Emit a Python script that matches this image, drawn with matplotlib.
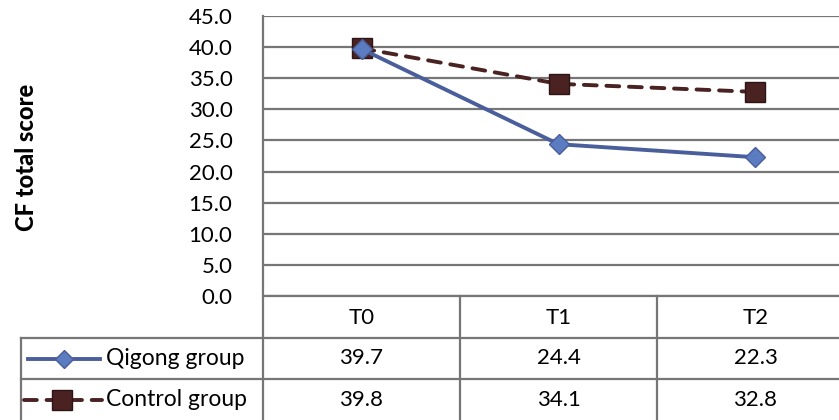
"""
CF total score over time for the Qigong and control groups,
drawn as a line chart with a data table underneath.
"""
import matplotlib
matplotlib.use('Agg')
import matplotlib.pyplot as plt
from matplotlib.lines import Line2D

# Data
timepoints = ['T0', 'T1', 'T2']
qigong_scores = [39.7, 24.4, 22.3]
control_scores = [39.8, 34.1, 32.8]
series_names = ['Qigong group', 'Control group']
y_ticks = [0, 5, 10, 15, 20, 25, 30, 35, 40, 45]

W, H = 839, 420
plt.rcParams['font.family'] = ['Lato', 'DejaVu Sans']

fig = plt.figure(figsize=(W / 100, H / 100), dpi=100)
fig.patch.set_facecolor('white')


def fx(x):
    return x / W


def fy(y):
    return 1 - y / H


# Plot area in pixel terms: x 263..854 (runs past the right edge), y 16..296
left, right, top, bottom = 263, 854, 16, 296
ax = fig.add_axes([fx(left), fy(bottom), (right - left) / W, (bottom - top) / H])
ax.set_xlim(-0.5, len(timepoints) - 0.5)
ax.set_ylim(0, 45)

grid_color = '#767676'
qigong_color = '#4A5E9C'
qigong_marker = '#5B7CC0'
control_color = '#4A2222'
dash = (0, (3.3, 2.5))

for v in y_ticks:
    ax.axhline(v, color=grid_color, linewidth=1.6, zorder=1)

x = range(len(timepoints))
ax.plot(x, control_scores, color=control_color, linewidth=2.8, linestyle=dash,
        dash_capstyle='round',
        marker='s', markersize=14, markerfacecolor=control_color,
        markeredgecolor='#2E1414', markeredgewidth=1, zorder=3)
ax.plot(x, qigong_scores, color=qigong_color, linewidth=2.8,
        marker='D', markersize=10, markerfacecolor=qigong_marker,
        markeredgecolor=qigong_color, markeredgewidth=1, zorder=4)

for side in ['top', 'right', 'bottom', 'left']:
    ax.spines[side].set_visible(False)
ax.set_xticks([])
ax.set_yticks(y_ticks)
ax.set_yticklabels([f'{v:.1f}' for v in y_ticks], fontsize=16)
ax.tick_params(axis='y', length=0, pad=22)
ax.patch.set_alpha(0)

# Axis title
fig.text(fx(27), fy(157), 'CF total score', rotation=90, fontsize=17, fontweight='black',
         ha='center', va='center')

# Data table below the plot
line_kw = dict(color=grid_color, linewidth=1.6, transform=fig.transFigure)
col_w = (right - left) / len(timepoints)
row_edges = [296, 338, 379, 421]
fig.add_artist(Line2D([fx(263), fx(263)], [fy(16), fy(421)], **line_kw))
fig.add_artist(Line2D([fx(263), fx(W)], [fy(row_edges[0]), fy(row_edges[0])], **line_kw))
for y in row_edges[1:3]:
    fig.add_artist(Line2D([fx(21), fx(W)], [fy(y), fy(y)], **line_kw))
fig.add_artist(Line2D([fx(21), fx(21)], [fy(row_edges[1]), fy(421)], **line_kw))
for i in range(1, len(timepoints)):
    xc = left + i * col_w
    fig.add_artist(Line2D([fx(xc), fx(xc)], [fy(row_edges[0]), fy(421)], **line_kw))

for i, label in enumerate(timepoints):
    xc = left + (i + 0.5) * col_w
    fig.text(fx(xc), fy(318), label, fontsize=16, ha='center', va='center')

rows = [qigong_scores, control_scores]
for r, values in enumerate(rows):
    yc = (row_edges[r + 1] + row_edges[r + 2]) / 2
    for i, v in enumerate(values):
        xc = left + (i + 0.5) * col_w
        fig.text(fx(xc), fy(yc), f'{v:.1f}', fontsize=16, ha='center', va='center')

# Legend keys inside the table's first column
yq = (row_edges[1] + row_edges[2]) / 2
yc2 = (row_edges[2] + row_edges[3]) / 2
fig.add_artist(Line2D([fx(28), fx(100)], [fy(yq), fy(yq)], color=qigong_color, linewidth=2.8,
                      transform=fig.transFigure))
fig.add_artist(Line2D([fx(64)], [fy(yq)], marker='D', markersize=9, markerfacecolor=qigong_marker,
                      markeredgecolor=qigong_color, transform=fig.transFigure))
fig.add_artist(Line2D([fx(24), fx(102)], [fy(yc2), fy(yc2)], color=control_color, linewidth=2.8,
                      linestyle=dash, dash_capstyle='round', transform=fig.transFigure))
fig.add_artist(Line2D([fx(62)], [fy(yc2)], marker='s', markersize=15, markerfacecolor=control_color,
                      markeredgecolor='#2E1414', transform=fig.transFigure))
fig.text(fx(106), fy(yq), series_names[0], fontsize=16.5, ha='left', va='center')
fig.text(fx(106), fy(yc2), series_names[1], fontsize=16.5, ha='left', va='center')

plt.savefig('out.png', dpi=100)
